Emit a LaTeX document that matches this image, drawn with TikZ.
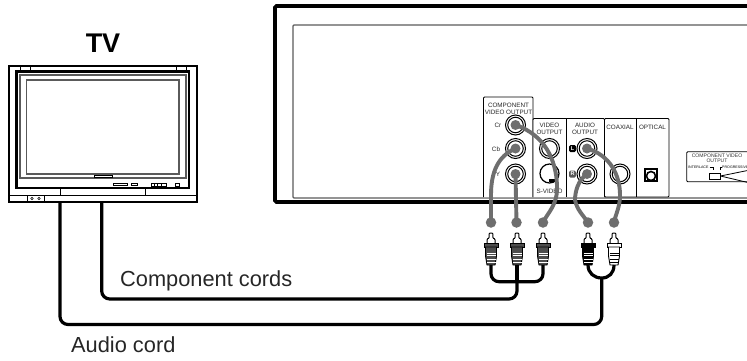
\documentclass[tikz,border=0pt]{standalone}
\usepackage{fontspec}
\setmainfont{Liberation Sans}
\usetikzlibrary{positioning,calc}
\definecolor{cablegray}{HTML}{6E6E6E}
\definecolor{plugcore}{HTML}{4E4E4E}
\definecolor{framegray}{HTML}{5A5A5A}
\newcommand{\fsz}[1]{\fontsize{#1}{#1}\selectfont}
\tikzset{panel/.style={draw,line width=.9pt,rounded corners=1pt,fill=white},
jackring/.style={circle,draw,line width=1pt,minimum size=20pt,inner sep=0pt},
jackhole/.style={circle,draw,line width=1pt,minimum size=15.5pt,inner sep=0pt},
plugdot/.style={circle,fill=cablegray,minimum size=10.5pt,inner sep=0pt},
signal/.style={cablegray,line width=3.9pt},
cord/.style={line width=3.2pt,rounded corners=8pt},
smalltext/.style={font=\fsz{6.3},align=center,inner sep=0pt,text=black!85},
tinytext/.style={font=\fsz{3.6},inner sep=0pt},
caption/.style={font=\fsz{21.8},inner sep=0pt,text=black!85},
pics/rcaplug/.style args={#1/#2}{code={
\draw[line width=1pt,fill=white,rounded corners=.8pt] (-1.8,0)--(-1.8,5)--(-4,6)--(-4,11)--(4,11)--(4,6)--(1.8,5)--(1.8,0)--cycle;
\draw[line width=.9pt,fill=#1] (-7,10.5) rectangle (7,14);
\draw[line width=.9pt,fill=#1] (-5.5,14)--(-5.5,23)--(-4,32)--(4,32)--(5.5,23)--(5.5,14)--cycle;
\foreach \y in {20,22.5,26,29}{\draw[#2,line width=.7pt] (-4.5,\y)--(4.5,\y);}
}}}
\begin{document}
\begin{tikzpicture}[x=1pt,y=-1pt]
\useasboundingbox (0,0) rectangle (747,360);
\node[font=\fsz{27}\bfseries,inner sep=0pt] (tvname) at (103,43) {TV};
\draw[line width=2.8pt] (9,66) rectangle (197,202);
\draw[line width=.7pt] (20,66)--(20,71) (30,66)--(30,71) (176,66)--(176,71) (186,66)--(186,71);
\draw[line width=2.2pt] (16.5,71.5) rectangle (189,188);
\draw[framegray,line width=1.2pt] (20,75) rectangle (186,178);
\draw[framegray,line width=1.2pt] (26.7,80) rectangle (179,174);
\draw[line width=.9pt,fill=white] (94,175) rectangle (112,177.5);
\draw[line width=.7pt] (113,183) rectangle (127,185.5) (131,183) rectangle (137,185.5) (175.5,183) rectangle (179,186);
\draw[line width=.7pt] (151,183) rectangle (166,186);
\foreach \x in {154,157.5,161}{\draw[line width=.7pt] (\x,183)--(\x,186);}
\draw[line width=1pt] (9,195)--(197,195) (60.5,188)--(60.5,195) (145.5,188)--(145.5,195);
\draw[line width=.8pt] (27.5,195) rectangle (44,201);
\foreach \x in {32,39}{\draw[line width=.6pt] (\x,198.5) circle (1.2);}
\draw[line width=3.6pt,line cap=round,rounded corners=1.5pt] (747,6)--(275,6)--(275,202)--(747,202);
\draw[framegray,line width=1.2pt,rounded corners=1pt] (747,25)--(293,25)--(293,198)--(747,198);
\draw[panel] (483.5,197)--(483.5,97)--(533,97)--(533,197);
\draw[panel] (533,197)--(533,118.5)--(604.5,118.5)--(604.5,197);
\draw[panel] (566,118.5)--(566,197);
\draw[panel] (604.5,197)--(604.5,118.5)--(669,118.5)--(669,197)--cycle;
\draw[line width=.9pt] (636,118.5)--(636,197);
\node[smalltext] (compname) at (508.5,108.5) {COMPONENT\\[.4pt]VIDEO OUTPUT};
\node[smalltext] (videoname) at (549.5,129) {VIDEO\\[.4pt]OUTPUT};
\node[smalltext] (audioname) at (585,129) {AUDIO\\[.4pt]OUTPUT};
\node[smalltext] (coaxname) at (620,127) {COAXIAL};
\node[smalltext] (optname) at (652.5,127) {OPTICAL};
\node[smalltext] (svname) at (549.5,191.5) {S-VIDEO};
\node[smalltext] (crname) at (498,125) {Cr};
\node[smalltext] (cbname) at (496,149) {Cb};
\node[smalltext] (yname) at (498,174) {Y};
\foreach \v/\x/\y in {Cr/515.5/125,Cb/515.5/148.5,Yj/515.5/174,Vid/549.5/148.5,Lj/587/148.5,Rj/587/174,Coax/620/174}{
\node[jackring] (\v) at (\x,\y) {};
\node[jackhole] (\v h) at (\x,\y) {};
}
\node[circle,draw,line width=1.2pt,minimum size=19pt,inner sep=0pt] (Sv) at (549.5,173.5) {};
\node[rectangle,fill=black,minimum width=7pt,minimum height=3pt,inner sep=0pt] (Svpin) at (552,180) {};
\node[rectangle,draw,line width=1.2pt,minimum size=12pt,inner sep=0pt] (Opt) at (651,175) {};
\node[circle,draw,line width=1.6pt,minimum size=9pt,inner sep=0pt] (Opth) at (651,176) {};
\node[rectangle,fill=black,rounded corners=1.5pt,minimum size=7pt,inner sep=0pt,text=white,font=\fsz{5.5}\bfseries] (Lmark) at (572.5,148.5) {L};
\node[rectangle,fill=black!65,rounded corners=1.5pt,minimum size=7pt,inner sep=0pt,text=white,font=\fsz{5.5}\bfseries] (Rmark) at (572.5,174) {R};
\draw[line width=.9pt,rounded corners=1pt] (750,151.7)--(686.7,151.7)--(686.7,181.7)--(750,181.7);
\node[font=\fsz{5.1},align=center,inner sep=0pt,text=black!80] (modename) at (717,158) {COMPONENT VIDEO\\[-.5pt]OUTPUT};
\node[tinytext,anchor=west] (interlace) at (688,167.5) {INTERLACE};
\node[tinytext,anchor=west] (progress) at (722,167.5) {PROGRESSIVE};
\draw[line width=.8pt] (709.5,167.5)--(713,167.5)--(713,170) (720,170)--(720,167.5)--(721.5,167.5);
\node[rectangle,draw,line width=.9pt,minimum width=11pt,minimum height=6pt,inner sep=0pt] (switch) at (714.5,176) {};
\draw[line width=.8pt] (switch.east)--(750,170) (switch.east)--(750,183);
\foreach \v/\x in {dotCb/491,dotY/516.5,dotCr/543,dotL/588,dotR/614}{\node[plugdot] (\v) at (\x,222.5) {};}
\foreach \v in {Cr,Cb,Yj,Lj,Rj}{\node[circle,fill=cablegray,minimum size=10pt,inner sep=0pt] (\v d) at (\v) {};}
\draw[signal] (Crd.center) .. controls (545,135) and (556,160) .. (557,185) .. controls (558,205) and (548,212) .. (dotCr.center);
\draw[signal] (Cbd.center) .. controls (498,156) and (491,172) .. (491,195) -- (dotCb.center);
\draw[signal] (Yjd.center)--(dotY.center);
\draw[signal] (Ljd.center) .. controls (610,155) and (620,175) .. (620,195) .. controls (620,207) and (616,213) .. (dotR.center);
\draw[signal] (Rjd.center) .. controls (578,180) and (575,192) .. (575,200) .. controls (577,210) and (583,215) .. (dotL.center);
\foreach \x/\n in {491/a,517/b,543/c}{\coordinate (tail\n) at (\x,265);\pic at (\x,233) {rcaplug={plugcore/white}};}
\pic at (588,233) {rcaplug={black/white}};
\pic at (614,233) {rcaplug={white/black}};
\coordinate (tailL) at (588,265);
\coordinate (tailR) at (614,265);
\coordinate (tvcomp) at (101.7,203);
\coordinate (tvaudio) at (60,203);
\coordinate (compjoin) at (517,281.7);
\coordinate (audiojoin) at (601.7,278);
\draw[cord] (taila)--(491,281.7)--(compjoin);
\draw[cord] (tailc)--(543,281.7)--(compjoin);
\draw[cord,rounded corners=0pt] (tailb)--(compjoin);
\draw[cord] (compjoin)--(517,299)--(101.7,299)--(tvcomp);
\draw[line width=3.2pt] (tailL) .. controls (588,273) and (594,278) .. (audiojoin) .. controls (609,278) and (614,273) .. (tailR);
\draw[cord] (audiojoin)--(601.7,324.5)--(60,324.5)--(tvaudio);
\node[caption,anchor=west] (compcap) at (120,281) {Component cords};
\node[caption,anchor=west] (audiocap) at (71,345) {Audio cord};
\end{tikzpicture}
\end{document}
